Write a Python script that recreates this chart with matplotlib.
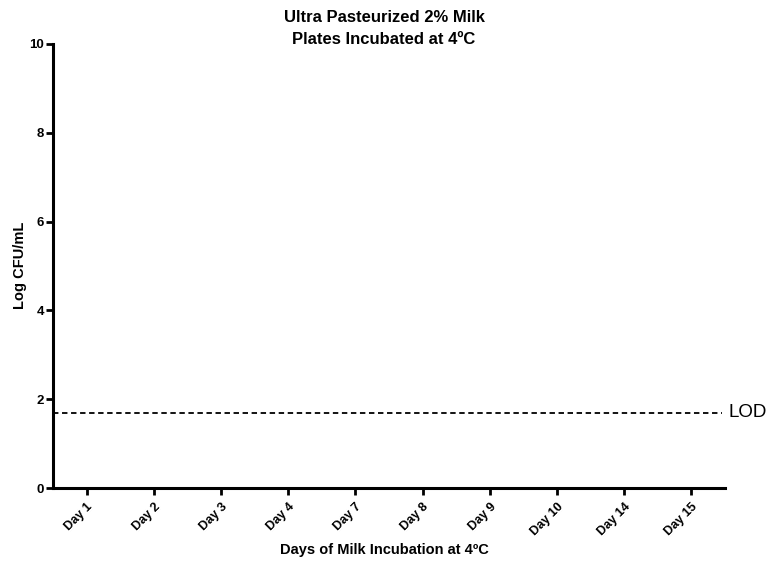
import matplotlib
matplotlib.use("Agg")
import matplotlib.pyplot as plt
from matplotlib import font_manager

categories = ["Day 1", "Day 2", "Day 3", "Day 4", "Day 7", "Day 8", "Day 9", "Day 10", "Day 14", "Day 15"]
yticks = [0, 2, 4, 6, 8, 10]
lod_value = 1.7

avail = {f.name for f in font_manager.fontManager.ttflist}
fam = [f for f in ["Liberation Sans Narrow", "Liberation Sans", "DejaVu Sans"] if f in avail]
plt.rcParams['font.family'] = fam

W, H = 768, 563
fig = plt.figure(figsize=(W / 100, H / 100), dpi=100)
ax = fig.add_axes([0.069, 0.133, 0.875, 0.789])

x = list(range(len(categories)))
ax.set_xlim(-0.5, len(categories) - 0.5)
ax.set_ylim(0, 10)
ax.set_xticks(x)
ax.set_xticklabels(categories, rotation=45, ha="right", rotation_mode="anchor",
                   fontsize=9, fontweight="bold")
ax.set_yticks(yticks)
ax.set_yticklabels([str(v) for v in yticks], fontsize=9.5, fontweight="bold")

for s in ["top", "right"]:
    ax.spines[s].set_visible(False)
for s in ["left", "bottom"]:
    ax.spines[s].set_linewidth(2.2)
ax.tick_params(axis="both", width=2, length=5, pad=1.5)
ax.tick_params(axis="x", pad=4)

ax.axhline(lod_value, xmin=0, xmax=0.995, color="black", linestyle=(0, (3, 2)), linewidth=1.3)
ax.text(1.005, lod_value, "LOD", transform=ax.get_yaxis_transform(), va="center", ha="left",
        fontsize=13.5)

fig.text(0.5, 1 - 17 / H, "Ultra Pasteurized 2% Milk", ha="center", va="center",
         fontsize=12, fontweight="bold")
fig.text(0.5, 1 - 40 / H, "Plates Incubated at 4ºC", ha="center", va="center",
         fontsize=12, fontweight="bold")
fig.text(0.5, 1 - 550 / H, "Days of Milk Incubation at 4ºC", ha="center", va="center",
         fontsize=10.5, fontweight="bold")
fig.text(20 / W, 1 - 265 / H, "Log CFU/mL", ha="center", va="center", rotation=90,
         fontsize=10.5, fontweight="bold")

fig.savefig("out.png", dpi=100)
